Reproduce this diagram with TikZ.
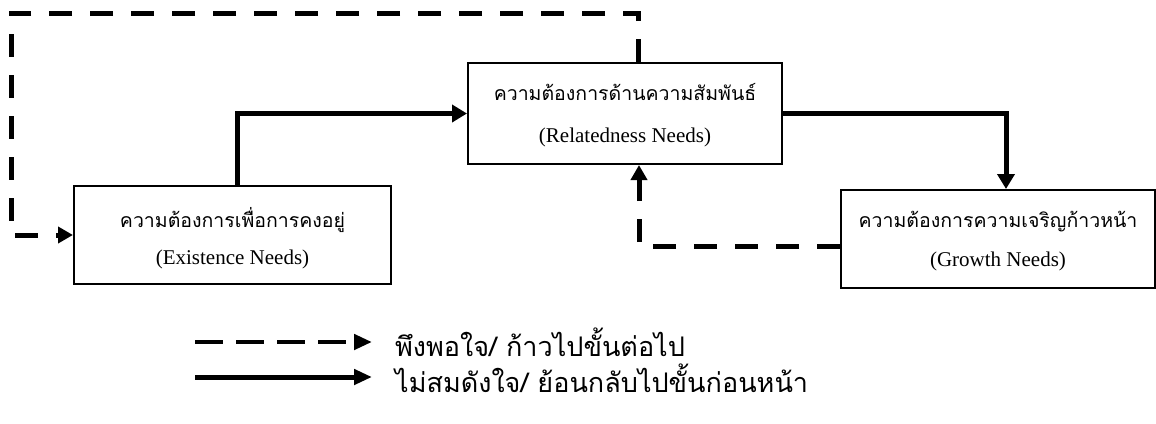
\documentclass[tikz,border=0pt]{standalone}
\usepackage{fontspec}
\setmainfont{Liberation Serif}
\newfontfamily\thai[Script=Thai]{Loma}
\usetikzlibrary{arrows.meta,calc}
\tikzset{
  boxnode/.style={draw=black,line width=2pt,rectangle,inner sep=0pt},
  thtext/.style={font=\thai\fontsize{19.5}{23}\selectfont,inner sep=0pt},
  entext/.style={font=\fontsize{21}{25}\selectfont,inner sep=0pt},
  legtext/.style={font=\thai\fontsize{27}{32}\selectfont,inner sep=0pt,anchor=west},
  solidarrow/.style={line width=5pt,-{Triangle[length=15pt,width=17pt]}},
  dasharrow/.style={line width=5pt,dash pattern=on 23pt off 18pt,-{Triangle[length=15pt,width=16pt]}},
  legdash/.style={line width=4.5pt,dash pattern=on 28pt off 13pt,-{Triangle[length=18pt,width=15pt]}},
  legsolid/.style={line width=5pt,-{Triangle[length=18pt,width=15pt]}}
}
\begin{document}
\begin{tikzpicture}[x=1pt,y=-1pt]
\useasboundingbox (0,0) rectangle (1156,423);
% boxes
\node[boxnode,minimum width=317pt,minimum height=98pt] (ex) at (232.5,235) {};
\node[boxnode,minimum width=314pt,minimum height=101pt] (rel) at (625,113.5) {};
\node[boxnode,minimum width=314pt,minimum height=98pt] (gr) at (998,239) {};
% texts
\node[thtext] (exth) at ($(ex.center)+(0,-15)$) {ความต้องการเพื่อการคงอยู่};
\node[entext] (exen) at ($(ex.center)+(0,24)$) {(Existence Needs)};
\node[thtext] (relth) at ($(rel.center)+(0,-21)$) {ความต้องการด้านความสัมพันธ์};
\node[entext] (relen) at ($(rel.center)+(0,24)$) {(Relatedness Needs)};
\node[thtext] (grth) at ($(gr.center)+(0,-17)$) {ความต้องการความเจริญก้าวหน้า};
\node[entext] (gren) at ($(gr.center)+(0,22)$) {(Growth Needs)};
% connectors
\draw[solidarrow] ([xshift=4.5pt]ex.north) |- (rel.west);
\draw[solidarrow] (rel.east) -| ([xshift=8pt]gr.north);
\draw[dasharrow] ([yshift=-7pt]gr.west) -| ([xshift=14pt]rel.south);
\coordinate (tr) at (638,13);
\coordinate (tl) at (11,13);
\coordinate (bl) at (11,235);
\draw[dasharrow] ([xshift=13pt]rel.north) -- (tr) -- (tl) -- (bl) -- (ex.west);
% legend
\coordinate (l1s) at (195,342);
\coordinate (l1e) at (372,342);
\coordinate (l2s) at (195,377);
\coordinate (l2e) at (372,377);
\draw[legdash] (l1s) -- (l1e);
\draw[legsolid] (l2s) -- (l2e);
\node[legtext] (lt1) at (395,342) {พึงพอใจ/ ก้าวไปขั้นต่อไป};
\node[legtext] (lt2) at (395,378) {ไม่สมดังใจ/ ย้อนกลับไปขั้นก่อนหน้า};
\end{tikzpicture}
\end{document}
